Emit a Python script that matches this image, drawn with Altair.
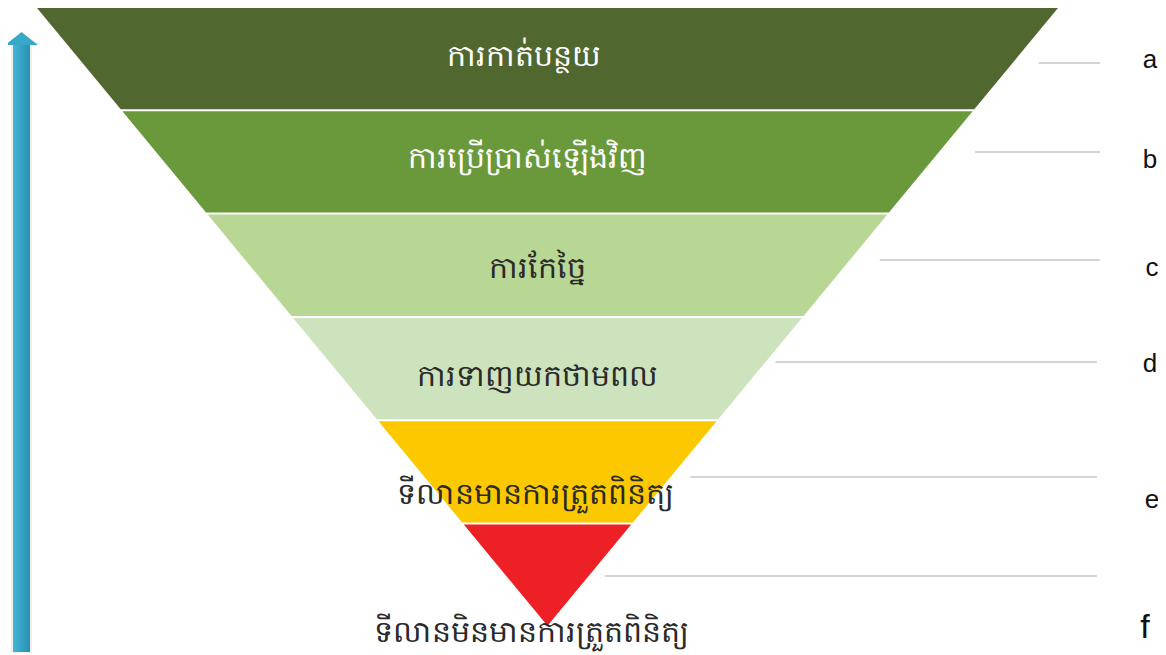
import altair as alt
import pandas as pd

# ---- data ----
labels = ["ការកាត់បន្ថយ", "ការប្រើប្រាស់ឡើងវិញ", "ការកែច្នៃ",
          "ការទាញយកថាមពល", "ទីលានមានការត្រួតពិនិត្យ", "ទីលានមិនមានការត្រួតពិនិត្យ"]
letters = ["a", "b", "c", "d", "e", "f"]
fills = ["#506830", "#6a993c", "#b8d794", "#cde3bd", "#fcc800", "#ed2025"]
text_colors = ["#ffffff", "#ffffff", "#2a2a2a", "#2a2a2a", "#2a2a2a", "#2a2a2a"]

# ---- layout (diagram space, px-like units, y downward) ----
W, H = 1150, 647
CX = 539.5
BAND = 103.3
GAP = 2.0
APEX_Y = 617.8
TOP_HW = 510.5

def hw(y):
    return TOP_HW * (APEX_Y - y) / APEX_Y

poly_rows = []
for i, lab in enumerate(labels):
    y0 = i * BAND
    y1 = y0 + BAND - GAP
    for y in (y0, y1):
        poly_rows.append({"band": lab, "order": i, "y": y,
                          "xl": CX - hw(y), "xr": CX + hw(y)})
poly = pd.DataFrame(poly_rows)

label_y_off = [49, 48, 54, 59, 74, 108]
label_x_off = [-24, -20, -10, -10, -12, -16]
text_df = pd.DataFrame({
    "label": labels,
    "x": [CX + o for o in label_x_off],
    "y": [i * BAND + o for i, o in enumerate(label_y_off)],
    "tc": text_colors,
})

line_y = [55, 144, 252, 354, 469, 568]
line_end = [1092, 1092, 1092, 1089, 1089, 1089]
lines_df = pd.DataFrame({
    "y": line_y,
    "x1": [CX + hw(y) + off for y, off in zip(line_y, [26, 36, 30, 10, 20, 16])],
    "x2": line_end,
})

letters_df = pd.DataFrame({
    "letter": letters,
    "x": [1142, 1142, 1144, 1142, 1144, 1137],
    "y": [52, 152, 260, 356, 492, 620],
    "size": [26, 26, 26, 26, 26, 34],
})

xs = alt.Scale(domain=[0, W], range=[0, W])
ys = alt.Scale(domain=[0, H], range=[0, H])

bands = alt.Chart(poly).mark_area(orient="horizontal").encode(
    y=alt.Y("y:Q", scale=ys, axis=None),
    x=alt.X("xl:Q", scale=xs, axis=None),
    x2="xr:Q",
    color=alt.Color("band:N", scale=alt.Scale(domain=labels, range=fills), legend=None),
    detail="band:N",
)

texts = alt.Chart(text_df).mark_text(fontSize=30, font="Noto Sans", baseline="middle", align="center").encode(
    x=alt.X("x:Q", scale=xs), y=alt.Y("y:Q", scale=ys),
    text="label:N",
    color=alt.Color("tc:N", scale=None),
)

lines = alt.Chart(lines_df).mark_rule(color="#aaaaaa", strokeWidth=1).encode(
    x=alt.X("x1:Q", scale=xs), x2="x2:Q", y=alt.Y("y:Q", scale=ys),
)

lets = alt.Chart(letters_df).mark_text(font="Liberation Sans", baseline="middle", align="center", color="#111111").encode(
    x=alt.X("x:Q", scale=xs), y=alt.Y("y:Q", scale=ys),
    text="letter:N",
    size=alt.Size("size:Q", scale=None),
)

# arrow
shadow_df = pd.DataFrame({"x": [3], "x2": [24], "y": [37], "y2": [645]})
shadow = alt.Chart(shadow_df).mark_rect(color="#bbbbbb", opacity=0.25).encode(
    x=alt.X("x:Q", scale=xs), x2="x2:Q", y=alt.Y("y:Q", scale=ys), y2="y2:Q")
shaft_df = pd.DataFrame({"x": [5], "x2": [22], "y": [36], "y2": [644]})
shaft = alt.Chart(shaft_df).mark_rect(
    color=alt.LinearGradient(gradient="linear", x1=0, x2=1, y1=0, y2=0,
                             stops=[alt.GradientStop(color="#44b6d6", offset=0),
                                    alt.GradientStop(color="#2a8fb0", offset=1)])
).encode(x=alt.X("x:Q", scale=xs), x2="x2:Q", y=alt.Y("y:Q", scale=ys), y2="y2:Q")
head_df = pd.DataFrame({"y": [24, 37], "xl": [13.5, -3], "xr": [13.5, 30]})
head = alt.Chart(head_df).mark_area(orient="horizontal", color="#38a8c8").encode(
    y=alt.Y("y:Q", scale=ys), x=alt.X("xl:Q", scale=xs), x2="xr:Q")

chart = alt.layer(bands, shadow, shaft, head, lines, texts, lets).properties(
    width=W, height=H, padding=0, autosize="none"
).configure_view(stroke=None)

chart.save("out.html", embed_options={"renderer": "svg", "actions": False})
